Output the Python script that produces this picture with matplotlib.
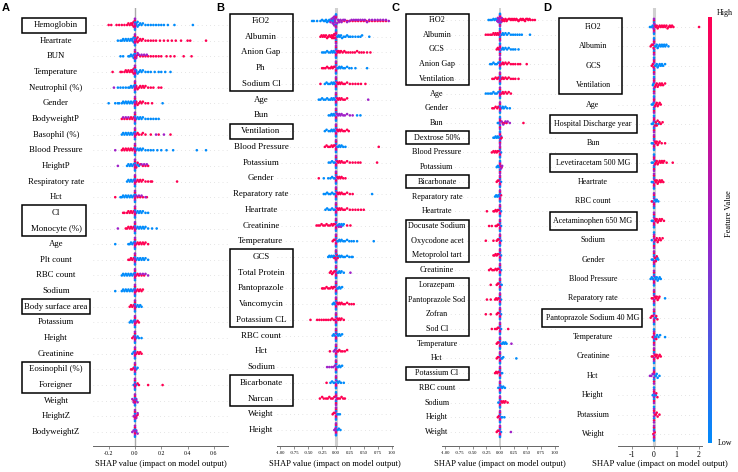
import numpy as np
import matplotlib
matplotlib.use("Agg")
import matplotlib.pyplot as plt
from matplotlib.colors import LinearSegmentedColormap, Normalize
from matplotlib.patches import Rectangle
from matplotlib.transforms import blended_transform_factory
from matplotlib.colorbar import ColorbarBase

plt.rcParams['font.family'] = ['Liberation Serif', 'DejaVu Serif']
plt.rcParams['axes.unicode_minus'] = False

# feature names, top to bottom, and SHAP values read off each row
# row = (points with low feature value, points with high value, mid value points)
A_features = ['Hemoglobin', 'Heartrate', 'BUN', 'Temperature', 'Neutrophil (%)', 'Gender',
              'BodyweightP', 'Basophil (%)', 'Blood Pressure', 'HeightP', 'Respiratory rate',
              'Hct', 'Cl', 'Monocyte (%)', 'Age', 'Plt count', 'RBC count', 'Sodium',
              'Body surface area', 'Potassium', 'Height', 'Creatinine', 'Eosinophil (%)',
              'Foreigner', 'Weight', 'HeightZ', 'BodyweightZ']
A_points = [
    ([.01, .01, .02, .02, .03, .04, .05, .06, .08, .1, .12, .14, .16, .18, .2, .22, .25, .3, .44],
     [-.2, -.18, -.14, -.12, -.1, -.08, -.06, -.05, -.04, -.03, -.02, -.02, -.01, -.01], []),
    ([-.13, -.11, -.1, -.09, -.08, -.07, -.06, -.05, -.04, -.03, -.02, -.02, -.01, -.01],
     [.01, .01, .02, .02, .03, .04, .05, .06, .08, .1, .12, .14, .16, .19, .22, .25, .28, .31, .35, .4, .42, .54], []),
    ([-.11, -.09, -.05, -.04, -.03, -.02, -.01, -.01],
     [.01, .02, .04, .06, .08, .1, .12, .14, .16, .18, .2, .24, .27, .3, .37, .43], [.01, .02, .03, .05, .07, .09]),
    ([.01, .01, .02, .03, .04, .05, .06, .08, .1, .12, .15, .18, .2, .23, .27],
     [-.17, -.11, -.1, -.08, -.07, -.06, -.05, -.04, -.03, -.02, -.02, -.01, -.01], []),
    ([-.13, -.11, -.09, -.07, -.05, -.04, -.03, -.02, -.01],
     [.01, .01, .02, .03, .04, .05, .06, .07, .08, .1, .12, .14, .18, .2], [-.16]),
    ([-.2, -.15, -.13, -.12, -.1, -.09, -.08, -.07, -.06, -.05, -.04, -.03, -.02, -.01, .21],
     [.01, .01, .02, .03, .04, .05, .06, .08, .1, .13], []),
    ([.01, .02, .03, .04, .05, .06, .08, .1, .12, .14, .16, .18],
     [-.1, -.08, -.06, -.04, -.03, -.02, -.01], [-.09, -.07, -.05]),
    ([-.1, -.09, -.08, -.07, -.06, -.05, -.04, -.03, -.02, -.01],
     [.01, .02, .03, .05, .06, .08, .12, .18, .27], [.16, .22]),
    ([.01, .02, .03, .04, .05, .06, .08, .1, .12, .14, .17, .2, .24, .29, .47, .54],
     [-.1, -.09, -.08, -.07, -.06, -.05, -.04, -.03, -.02, -.01], [-.15]),
    ([-.06, -.05, -.04, -.03, -.02, -.01, .01, .02, .03],
     [.01, .02, .04, .06, .08, .1], [-.13, .05, .07, .09]),
    ([-.06, -.05, -.04, -.03, -.02, -.01],
     [.01, .02, .03, .04, .05, .06, .08, .1, .12, .13, .32], []),
    ([-.11, -.1, -.09, -.08, -.07, -.06, -.05, -.04, -.03, -.02, -.01],
     [-.15, .02, .04, .06, .09], [.01, .03, .05, .08]),
    ([.01, .02, .03, .04, .05, .06, .08, .1],
     [-.09, -.08, -.06, -.05, -.04, -.03, -.02, -.01], []),
    ([.01, .02, .03, .04, .05, .06, .07, .08, .1, .13, .165],
     [-.07, -.06, -.05, -.04, -.03, -.02, -.01], [-.13]),
    ([-.15, -.05, -.04, -.03, -.02, -.01],
     [.01, .02, .03, .04, .05, .06, .07, .08, .1], []),
    ([.01, .02, .03, .04, .05, .06, .07, .08, .1],
     [-.05, -.04, -.03, -.02, -.01], []),
    ([-.1, -.09, -.08, -.07, -.06, -.05, -.04, -.03, -.02, -.01],
     [.01, .02, .03, .05, .07], [.04, .06, .08, .1]),
    ([-.15, -.1, -.09, -.08, -.07, -.06, -.05, -.04, -.03, -.02, -.01],
     [.01, .02, .03, .04, .05, .06], []),
    ([.01, .02, .03, .04, .05], [-.04, -.03, -.02, -.01], []),
    ([-.04, -.03, -.02, -.01], [.01, .02, .03], []),
    ([.01, .02, .03, .05], [-.02, -.01], []),
    ([-.02, -.01], [.01, .02, .03, .04, .05], []),
    ([.01, .02], [-.03, -.02, -.01], []),
    ([-.01, .01], [.02, .03, .1, .21], []),
    ([.01], [-.01], [-.02, -.01, .01, .02]),
    ([], [.01, .02], [-.01, .01, .02]),
    ([.01], [], [-.02, -.01, .01, .02]),
]

B_features = ['FiO2', 'Albumin', 'Anion Gap', 'Ph', 'Sodium Cl', 'Age', 'Bun', 'Ventilation',
              'Blood Pressure', 'Potassium', 'Gender', 'Reparatory rate', 'Heartrate', 'Creatinine',
              'Temperature', 'GCS', 'Total Protein', 'Pantoprazole', 'Vancomycin', 'Potassium CL',
              'RBC count', 'Hct', 'Sodium', 'Bicarbonate', 'Narcan', 'Weight', 'Height']
B_points = [
    ([-.43, -.4, -.34, -.28, -.25, -.22, -.2, -.18, -.16, -.14, -.12, -.1, -.08, -.06, -.05, -.04, -.03, -.02],
     [.05, .1, .15, .2, .25, .3, .35, .4, .45, .5, .55, .6, .65, .7, .75, .8, .85, .9],
     [-.1, -.08, -.06, -.05, -.04, -.03, -.03, -.02, -.02, -.01, .02, .04, .06, .08, .1, .13, .16, .2, .24,
      .28, .32, .36, .4, .44, .48, .52, .56, .6, .65, .7, .75, .8, .85, .9, .95]),
    ([.02, .03, .05, .07, .09, .11, .14, .17, .2, .23, .26, .3, .35, .4, .44, .47, .6],
     [-.28, -.26, -.24, -.22, -.2, -.18, -.16, -.14, -.12, -.1, -.08, -.07, -.06, -.05, -.04, -.03, -.02, -.01], []),
    ([-.25, -.22, -.19, -.16, -.13, -.1, -.08, -.06, -.04, -.02],
     [.02, .03, .05, .07, .09, .12, .15, .18, .22, .26, .3, .34, .38, .42, .46, .5, .56, .62], []),
    ([.02, .04, .06, .08, .1, .13, .16, .2, .24, .28, .35, .56],
     [-.25, -.22, -.19, -.16, -.13, -.1, -.08, -.06, -.04, -.02], []),
    ([-.2, -.17, -.14, -.11, -.08, -.06, -.04, -.02],
     [-.28, .02, .04, .06, .08, .1, .13, .16, .2, .25, .3, .35, .4, .45, .53], []),
    ([-.31, -.28, -.25, -.22, -.19, -.16, -.13, -.1, -.08, -.06, -.04, -.02],
     [.02, .04, .06, .08, .1, .13, .16, .2], [.58]),
    ([-.13, -.1, -.08, -.06, -.04, -.02, .38, .44], [],
     [.02, .04, .06, .08, .1, .13, .16, .2, .25, .3]),
    ([-.2, -.17, -.13, -.1, -.08, -.06, -.04, -.02],
     [.02, .04, .06, .08, .1, .13, .16, .2, .23], []),
    ([.02, .04, .06, .08, .1, .13, .17],
     [-.2, -.17, -.14, -.11, -.08, -.06, -.04, -.02, .77], []),
    ([-.13, -.1, -.07, -.04, -.02],
     [.02, .04, .06, .08, .1, .13, .16, .2, .25, .3, .35, .4, .44, .74], []),
    ([-.22, -.14, -.1, -.07, -.04, -.02],
     [-.31, .02, .04, .06, .08, .1, .13, .17], []),
    ([-.22, -.19, -.16, -.13, -.1, -.07, -.04, -.02, .65],
     [.02, .04, .06, .08, .1, .13, .16, .2, .25, .3], []),
    ([-.19, -.16, -.13, -.1, -.07, -.04, -.02],
     [.02, .04, .06, .08, .1, .13, .16, .2, .25, .3, .35, .4, .45, .5], []),
    ([.02, .04, .06, .08, .1, .12, .14],
     [-.35, -.32, -.29, -.26, -.23, -.2, -.17, -.14, -.11, -.08, -.06, -.04, -.02, .2, .26], [.05, .09]),
    ([.02, .04, .06, .08, .1, .13, .16, .2, .24, .28, .32, .38, .68], [-.06, -.04, -.02], []),
    ([-.14, -.12, -.1, -.08, -.06, -.04, -.02, .02, .04, .06, .08, .1, .13, .16, .2, .24, .28, .3],
     [-.03, -.01, .01, .03], []),
    ([.02, .04, .06, .08, .1, .14], [-.11, -.09, -.07, -.05, -.03, -.01], [.26]),
    ([.02, .04, .06, .08, .11], [-.25, -.23, -.2, -.17, -.14, -.11, -.08, -.06, -.04, -.02], []),
    ([-.06, -.04, -.02], [.02, .04, .06, .08, .1, .13, .16, .2, .24, .28, .32], []),
    ([], [-.46, -.34, -.3, -.26, -.22, -.18, -.14, -.1, -.07, -.04, -.02, .02, .04, .06, .08, .1, .14], []),
    ([-.06, -.04, -.02, .02, .04, .06, .08, .11], [], []),
    ([], [-.11, .02, .04, .06, .09, .12, .16, .2], [-.04, -.02]),
    ([.02, .04, .06, .08, .11], [], [-.16, -.12, -.08, -.05, -.02]),
    ([-.1, -.07, -.04, -.02, .02, .04, .06, .09, .14], [-.17], []),
    ([], [-.29, -.25, -.22, -.18, -.15, -.12, -.09, -.06, -.03, .02, .04, .07, .1, .13, .16], []),
    ([.02, .04, .07], [-.06, -.04, -.02], []),
    ([.01, .03, .05, .08], [], [-.03, -.01]),
]

C_features = ['FiO2', 'Albumin', 'GCS', 'Anion Gap', 'Ventilation', 'Age', 'Gender', 'Bun',
              'Dextrose 50%', 'Blood Pressure', 'Potassium', 'Bicarbonate', 'Reparatory rate',
              'Heartrate', 'Docusate Sodium', 'Oxycodone acet', 'Metoprolol tart', 'Creatinine',
              'Lorazepam', 'Pantoprazole Sod', 'Zofran', 'Sod Cl', 'Temperature', 'Hct',
              'Potassium Cl', 'RBC count', 'Sodium', 'Height', 'Weight']
C_points = [
    ([-.21, -.18, -.15, -.12, -.1, -.08, -.06, -.04, -.02],
     [.03, .05, .07, .1, .13, .16, .2, .24, .28, .32, .36, .4, .44, .48, .52, .56, .6, .64,
      .04, .08, .12, .18, .22, .26, .3, .34, .38, .42, .46, .5, .54],
     [-.05, -.04, -.03, -.02, -.01, .01, .02, .03]),
    ([.03, .05, .07, .1, .13, .16, .2, .24, .28, .32, .36, .4, .55],
     [-.26, -.22, -.18, -.15, -.12, -.1, -.08, -.06, -.04, -.02], []),
    ([.03, .05, .07, .1, .13, .16, .2, .24, .28, .34], [-.06, -.04, -.02], []),
    ([-.18, -.15, -.12, -.09, -.06, -.03], [.03, .05, .07, .1, .13, .16, .2, .24, .28, .33, .37, .49], []),
    ([-.01, .01], [-.14, -.11, -.08, -.05, -.03, .03, .05, .07, .1, .13, .16, .2, .24, .28, .34], []),
    ([-.26, -.22, -.18, -.15, -.12, -.09, -.06, -.03], [.03, .05, .07, .1, .13, .16, .2], []),
    ([.03, .05, .07, .1, .13, .18], [-.14, -.11, -.08, -.05, -.03], []),
    ([-.04, -.02], [.05, .08, .12, .43], [.03, .06, .1, .14, .18]),
    ([-.12, -.1, -.08, -.06, -.04, -.02, .02], [.01, .03], []),
    ([.02], [-.15, -.12, -.1, -.08, -.06, -.04, -.02], []),
    ([-.06, -.04, -.02], [.01, .03], [.02, .04]),
    ([.02], [-.06, -.04, -.02], []),
    ([-.09, -.07, -.05, -.03, -.01], [.02], []),
    ([.02], [-.24, -.12, -.1, -.08, -.06, -.04, -.02], []),
    ([.02], [-.2, -.15, -.08, -.06, -.04, -.02], []),
    ([.02], [-.26, -.12, -.06, -.04, -.02], []),
    ([.02], [-.12, -.1, -.08, -.06, -.04, -.02], []),
    ([.02], [-.2, -.17, -.14, -.11, -.08, -.06, -.04, -.02], []),
    ([.02, .03], [-.17, -.06, -.04, -.02], []),
    ([.02], [-.24, -.17, -.09, -.07, -.05, -.03, -.01], []),
    ([.02], [-.26, -.17, -.06, -.04, -.02], []),
    ([.02], [-.15, -.09, -.06, -.04, -.02, .15], []),
    ([.02, .04, .06, .08, .1, .12], [-.06, -.04, -.02], [.21]),
    ([.02, .04, .06, .3], [-.06, -.04, -.02], []),
    ([.02, .04], [-.09, -.07, -.05, -.03, -.01], []),
    ([-.03, -.01, .02, .04, .06, .09], [], []),
    ([-.03, -.01], [.02, .04, .06, .08, .1, .14], []),
    ([.02, .04, .08], [-.04, -.02], []),
    ([.02], [-.06, -.04, -.02], [.2]),
]

D_features = ['FiO2', 'Albumin', 'GCS', 'Ventilation', 'Age', 'Hospital Discharge year', 'Bun',
              'Levetiracetam 500 MG', 'Heartrate', 'RBC count', 'Acetaminophen 650 MG', 'Sodium',
              'Gender', 'Blood Pressure', 'Reparatory rate', 'Pantoprazole Sodium 40 MG',
              'Temperature', 'Creatinine', 'Hct', 'Height', 'Potassium', 'Weight']
D_points = [
    ([-.18, -.12, -.06, -.03],
     [.04, .08, .12, .16, .2, .25, .3, .35, .4, .45, .5, .55, .6, .65, .7, .75, .8, .86, 2.0], [-.02, .02]),
    ([.04, .08, .12, .16, .2, .25, .3, .35, .4, .45, .5, .55, .64], [-.15, -.1, -.05, -.02], []),
    ([.04, .08, .12, .16, .2, .25, .3, .35, .4, .49], [-.1, -.05, -.02], []),
    ([-.05, -.02], [.04, .08, .12, .16, .2, .25, .3, .35, .4, .49], []),
    ([-.1, -.05, -.02], [.04, .08, .12, .16, .2, .25, .3], []),
    ([-.1, -.05, -.02, .1, .2], [.04, .08, .12, .16, .24, .3, .38], []),
    ([-.1, -.05], [.04, .08, .12, .16, .2, .25, .34, .49], []),
    ([-.1, -.05, .05], [.04, .08, .12, .16, .2, .25, .3, .35, .4, .45, .56, .83], []),
    ([-.1, -.05], [.04, .08, .12, .16, .2, .25, .3, .35, .41], []),
    ([-.05, .04, .08, .12, .19], [-.1], []),
    ([-.1, -.05], [.04, .08, .12, .16, .2, .25, .3, .35, .44], []),
    ([-.1], [.04, .08, .12, .16, .2, .25, .3, .38], []),
    ([-.1, -.05, .1, .15, .19], [.04, .08, .12], []),
    ([-.15, -.1, -.05, .04, .08, .12, .16, .2, .25, .3], [], []),
    ([.49], [-.1, -.05, .04, .08, .12, .16, .2, .24], []),
    ([.04, .08], [-.15, -.1, -.05, .1, .15], []),
    ([.04, .08, .14, .2, .27, .49], [-.06, .1], []),
    ([], [-.1, -.05, .04, .08, .12, .16, .2, .25, .3], []),
    ([.04, .08, .12, .16, .24], [], [-.18, -.12, -.06]),
    ([-.06, .04, .08], [.1, .15], []),
    ([], [.04, .08, .12, .16, .24], []),
    ([], [-.03, .03], []),
]

# ---- layout (pixels of the 738x472 figure) ----
W, H = 738, 472
AX_TOP, AX_BOT = 8, 446
panels = [
    dict(letter='A', letter_x=2, feats=A_features, pts=A_points, left=93, right=228,
         xlim=(-0.319, 0.707), ticks=[-0.2, 0.0, 0.2, 0.4, 0.6], fmt='{:.1f}', first=25, last=432,
         label_x=56, label_fs=6.3, tick_fs=4.2, xl_fs=6.1, zero=('#aaaaaa', 1.0), pad=7.5,
         boxes=[(0, 0, 22, 86), (12, 13, 22, 86), (18, 18, 22, 90), (22, 23, 22, 90)]),
    dict(letter='B', letter_x=216, feats=B_features, pts=B_points, left=277, right=393,
         xlim=(-1.063, 1.027), ticks=[-1, -0.75, -0.5, -0.25, 0, 0.25, 0.5, 0.75, 1.0], fmt='{:.2f}',
         first=21, last=430, label_x=261, label_fs=6.4, tick_fs=3.3, xl_fs=6.1, zero=('#d0d0d0', 2.2),
         pad=7.5, boxes=[(0, 4, 230, 293), (7, 7, 230, 293), (15, 19, 230, 293), (23, 24, 230, 293)]),
    dict(letter='C', letter_x=392, feats=C_features, pts=C_points, left=442, right=558,
         xlim=(-1.064, 1.064), ticks=[-1, -0.75, -0.5, -0.25, 0, 0.25, 0.5, 0.75, 1.0], fmt='{:.2f}',
         first=20, last=432, label_x=437, label_fs=5.9, tick_fs=3.3, xl_fs=6.1, zero=('#c8c8c8', 1.2),
         pad=6.5, boxes=[(0, 4, 406, 469), (8, 8, 406, 469), (11, 11, 406, 469), (14, 16, 406, 469),
                         (18, 21, 406, 469), (24, 24, 406, 469)]),
    dict(letter='D', letter_x=543, feats=D_features, pts=D_points, left=618, right=702,
         xlim=(-1.6, 2.13), ticks=[-1, 0, 1, 2], fmt='{:.0f}', first=27, last=434,
         label_x=593, label_fs=5.8, tick_fs=5.6, xl_fs=6.3, zero=('#d0d0d0', 2.2), pad=9,
         boxes=[(0, 3, 559, 622), (5, 5, 550, 637), (7, 7, 550, 637), (10, 10, 550, 637),
                (15, 15, 542, 642)]),
]

cmap = LinearSegmentedColormap.from_list('shap_rb', ['#008bfb', '#a020c8', '#ff0052'])
CORE_N = 8
CORE_V = [0.5, 0.5, 1, 0, 0.5, 1, 0, 0.5]
DOT = 3.5
BIN_PX = 2.5

fig = plt.figure(figsize=(W / 100, H / 100), dpi=100)

for p in panels:
    n = len(p['feats'])
    sp = (p['last'] - p['first']) / (n - 1)
    ax = fig.add_axes([p['left'] / W, 1 - AX_BOT / H, (p['right'] - p['left']) / W, (AX_BOT - AX_TOP) / H])
    ax.set_xlim(*p['xlim'])
    ax.set_ylim(-(AX_BOT - p['last']) / sp, (n - 1) + (p['first'] - AX_TOP) / sp)
    px_per_unit = (p['right'] - p['left']) / (p['xlim'][1] - p['xlim'][0])
    binw = BIN_PX / px_per_unit

    ax.axvline(0, color=p['zero'][0], lw=p['zero'][1], zorder=-1)
    trans = blended_transform_factory(fig.transFigure, ax.transData)

    for i, (feat, (lo, hi, mid)) in enumerate(zip(p['feats'], p['pts'])):
        y0 = n - 1 - i
        ax.axhline(y0, color='#cccccc', lw=0.5, dashes=(1, 5), zorder=-1)
        xs = list(lo) + list(hi) + list(mid) + [0.0] * CORE_N
        vs = [0.0] * len(lo) + [1.0] * len(hi) + [0.5] * len(mid) + CORE_V
        xs = np.array(xs)
        vs = np.array(vs)
        bins = np.round(xs / binw).astype(int)
        ks = np.zeros(len(xs))
        for b in np.unique(bins):
            idx = np.where(bins == b)[0]
            for j, k in enumerate(idx):
                ks[k] = (j + 1) // 2 * (1 if j % 2 else -1)
        max_k = max(np.abs(ks).max(), 1)
        step = min(0.1, 0.42 / max_k)
        ax.scatter(xs, y0 + ks * step, c=vs, cmap=cmap, vmin=0, vmax=1, s=DOT, linewidths=0, zorder=3)
        ax.text(p['label_x'] / W, y0, feat, transform=trans, ha='center', va='center',
                fontsize=p['label_fs'])

    for r0, r1, x0, x1 in p['boxes']:
        top = n - 1 - r0 + p['pad'] / sp
        bot = n - 1 - r1 - p['pad'] / sp
        ax.add_patch(Rectangle((x0 / W, bot), (x1 - x0) / W, top - bot, transform=trans,
                               fill=False, lw=1.1, ec='black', clip_on=False))

    for s in ['left', 'right', 'top']:
        ax.spines[s].set_visible(False)
    ax.spines['bottom'].set_color('#666666')
    ax.spines['bottom'].set_linewidth(0.7)
    ax.set_yticks([])
    ax.set_xticks(p['ticks'])
    ax.set_xticklabels([p['fmt'].format(t) for t in p['ticks']])
    ax.tick_params(axis='x', labelsize=p['tick_fs'], length=2, width=0.5, color='#666666', pad=1.5)
    ax.set_xlabel('SHAP value (impact on model output)', fontsize=p['xl_fs'])
    ax.xaxis.set_label_coords(0.5, -18 / (AX_BOT - AX_TOP))
    ax.xaxis.label.set_va('center')

    fig.text(p['letter_x'] / W, 1 - 8 / H, p['letter'], fontfamily='Liberation Sans',
             fontweight='bold', fontsize=8, va='center', ha='left')

# colour bar
cax = fig.add_axes([708 / W, 1 - 443 / H, 4 / W, (443 - 17) / H])
cb = ColorbarBase(cax, cmap=cmap, norm=Normalize(0, 1))
cb.outline.set_visible(False)
cb.set_ticks([])
fig.text(717 / W, 1 - 13 / H, 'High', fontsize=5.8, va='center', ha='left')
fig.text(718 / W, 1 - 443 / H, 'Low', fontsize=5.8, va='center', ha='left')
fig.text(729 / W, 1 - 214 / H, 'Feature Value', fontsize=6, rotation=90, va='center', ha='center')

fig.savefig('out.png', dpi=100)
